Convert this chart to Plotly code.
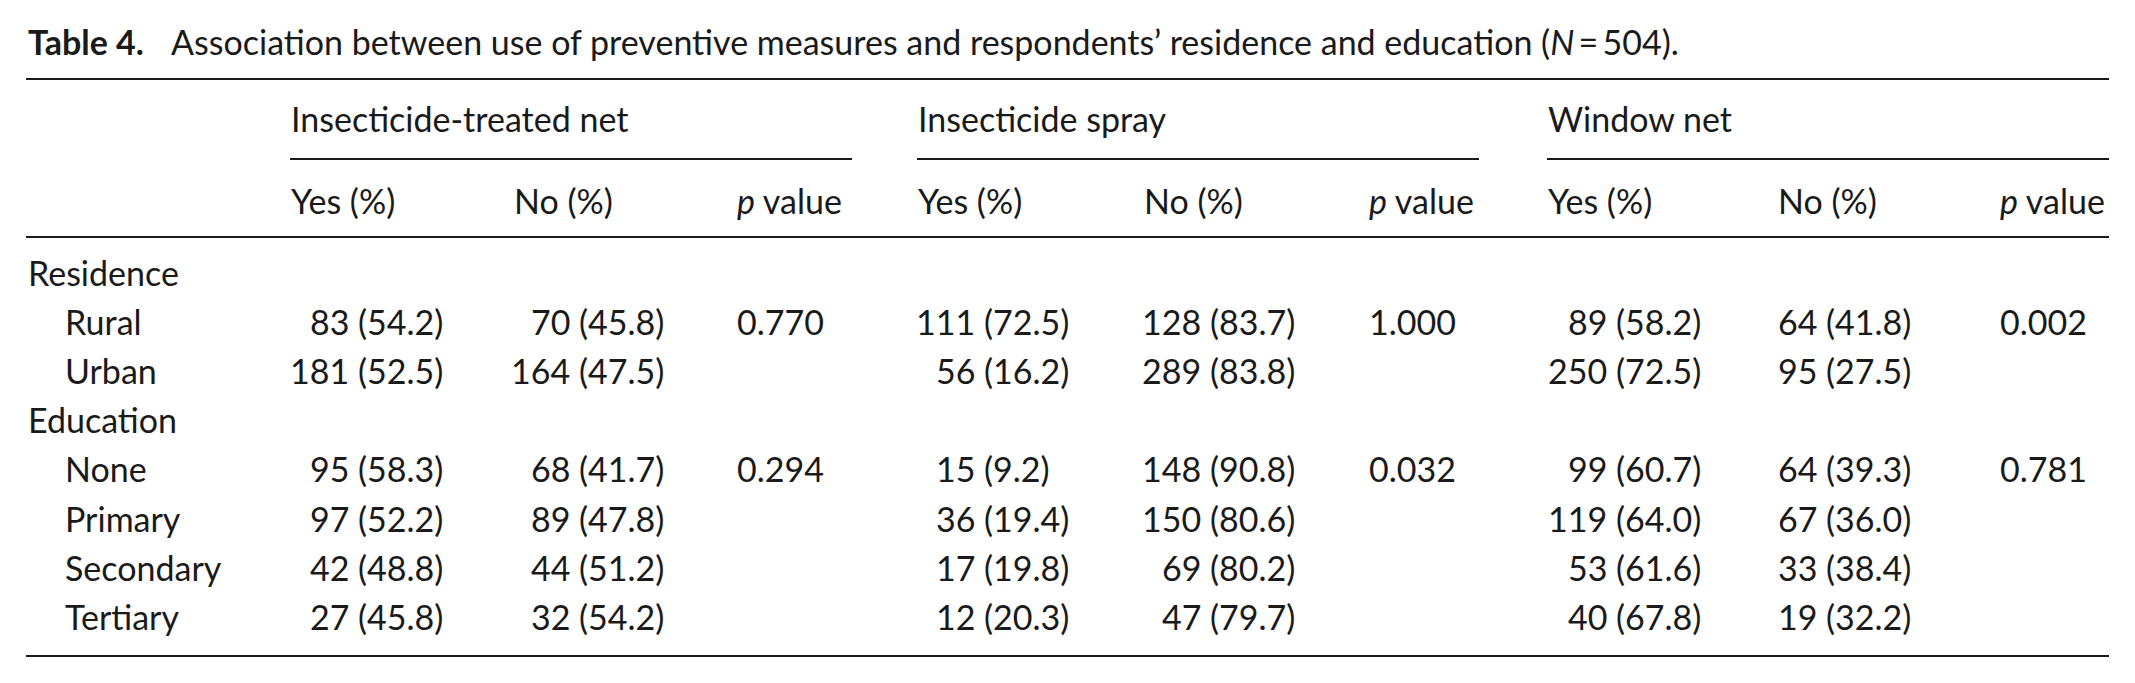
import plotly.graph_objects as go

# ---- table content ----
title_bold = "Table 4."
title_text = ("Association between use of preventive measures and respondents\u2019 "
              "residence and education (<i>N</i>\u2009=\u2009504).")

groups = ["Insecticide-treated net", "Insecticide spray", "Window net"]
col_heads = ["Yes (%)", "No (%)", "<i>p</i> value"]

sections = ["Residence", "Education"]
section_rows = [["Rural", "Urban"], ["None", "Primary", "Secondary", "Tertiary"]]

# counts and percentages, rows: Rural, Urban, None, Primary, Secondary, Tertiary
itn_yes_n = [83, 181, 95, 97, 42, 27]
itn_yes_pct = [54.2, 52.5, 58.3, 52.2, 48.8, 45.8]
itn_no_n = [70, 164, 68, 89, 44, 32]
itn_no_pct = [45.8, 47.5, 41.7, 47.8, 51.2, 54.2]
itn_p = ["0.770", "", "0.294", "", "", ""]

spray_yes_n = [111, 56, 15, 36, 17, 12]
spray_yes_pct = [72.5, 16.2, 9.2, 19.4, 19.8, 20.3]
spray_no_n = [128, 289, 148, 150, 69, 47]
spray_no_pct = [83.7, 83.8, 90.8, 80.6, 80.2, 79.7]
spray_p = ["1.000", "", "0.032", "", "", ""]

window_yes_n = [89, 250, 99, 119, 53, 40]
window_yes_pct = [58.2, 72.5, 60.7, 64.0, 61.6, 67.8]
window_no_n = [64, 95, 64, 67, 33, 19]
window_no_pct = [41.8, 27.5, 39.3, 36.0, 38.4, 32.2]
window_p = ["0.002", "", "0.781", "", "", ""]

blocks = [
    (itn_yes_n, itn_yes_pct, itn_no_n, itn_no_pct, itn_p),
    (spray_yes_n, spray_yes_pct, spray_no_n, spray_no_pct, spray_p),
    (window_yes_n, window_yes_pct, window_no_n, window_no_pct, window_p),
]

# ---- layout (pixel space of the page) ----
W, H = 2135, 683
PAD = 8  # body margin of the html page
FONT = "Lato"
FS = 34
INK = "#1a1a1a"

left = 27
right = 2109
block_x = [290, 917, 1547]
block_w = 562
col_x = [[290, 513, 736], [917, 1143, 1368], [1547, 1777, 1999]]
paren_x = [[357, 578], [983, 1209], [1615, 1825]]  # where "(" of each data column sits

y_title, y_top, y_group, y_sub, y_head, y_headrule = 41, 79, 118, 159, 200, 237
y_row0, row_step, y_bottom = 272, 49.2, 656

ann = []
shapes = []


def text(x, y, s, anchor="left"):
    ann.append(dict(x=x, y=y, xref="x", yref="y", text=s, showarrow=False,
                    xanchor=anchor, yanchor="middle", borderpad=0,
                    font=dict(family=FONT, size=FS, color=INK)))


def rule(x0, x1, y, w):
    shapes.append(dict(type="line", xref="x", yref="y", x0=x0, x1=x1, y0=y, y1=y,
                       line=dict(color=INK, width=w)))


# title
text(left, y_title, "<b>" + title_bold + "</b>")
text(170, y_title, title_text)

# rules
rule(left - 1, right, y_top, 2.2)
rule(left - 1, right, y_headrule, 2.2)
rule(left - 1, right, y_bottom, 2.2)
for bx in block_x:
    rule(bx, bx + block_w, y_sub, 2)

# group & column headers
for b, g in enumerate(groups):
    text(block_x[b], y_group, g)
    for c, h in enumerate(col_heads):
        text(col_x[b][c], y_head, h)

# body
r = 0
k = 0
for sec, subs in zip(sections, section_rows):
    text(left, y_row0 + r * row_step, sec)
    r += 1
    for lab in subs:
        y = y_row0 + r * row_step
        text(left + 37, y, lab)
        for b, (yn, yp, nn, npct, pv) in enumerate(blocks):
            for c, (n, p) in enumerate([(yn[k], yp[k]), (nn[k], npct[k])]):
                px = paren_x[b][c]
                text(px - 7, y, str(n), "right")
                text(px, y, "(%.1f)" % p, "left")
            if pv[k]:
                text(col_x[b][2], y, pv[k])
        r += 1
        k += 1

fig = go.Figure()
fig.update_layout(
    width=W - 2 * PAD, height=H - 2 * PAD,
    margin=dict(l=0, r=0, t=0, b=0),
    paper_bgcolor="white", plot_bgcolor="white",
    xaxis=dict(range=[PAD, W - PAD], visible=False, fixedrange=True),
    yaxis=dict(range=[H - PAD, PAD], visible=False, fixedrange=True),
    annotations=ann, shapes=shapes, showlegend=False,
)
fig.write_html("out.html")
